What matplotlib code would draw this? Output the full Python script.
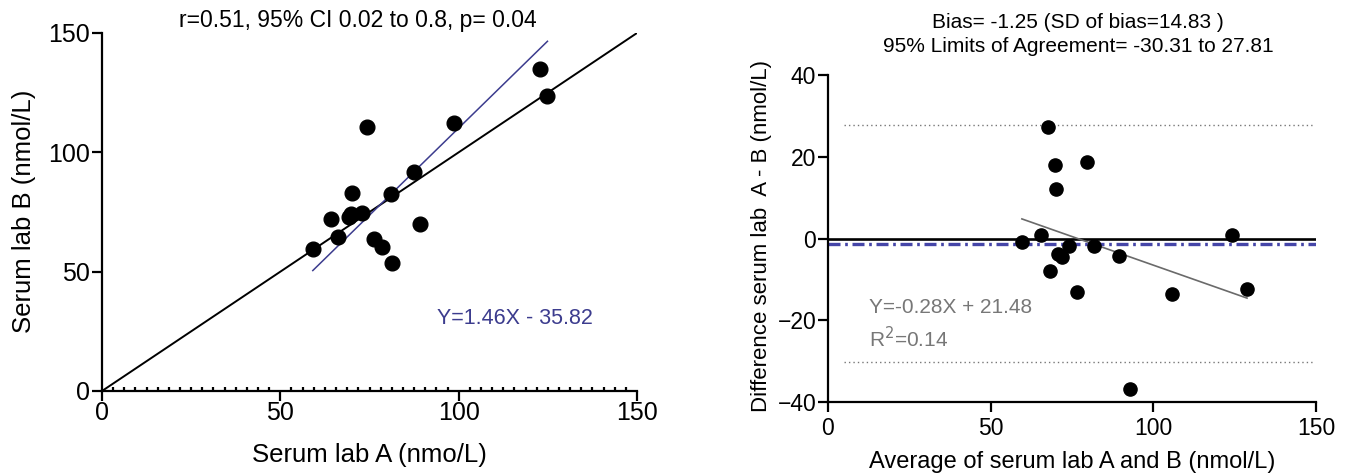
import matplotlib
matplotlib.use("Agg")
import matplotlib.pyplot as plt
from matplotlib.ticker import MultipleLocator
import numpy as np

plt.rcParams['font.family'] = ['Liberation Sans', 'DejaVu Sans']

# Left panel: serum lab A vs serum lab B
lab_a = [59.1, 64.1, 66.2, 69.2, 69.7, 70.2, 72.9, 74.2, 76.3, 78.6, 81.0, 81.4, 87.4, 89.2, 98.8, 122.7, 124.9]
lab_b = [59.3, 72.1, 64.6, 72.8, 74.3, 83.1, 74.4, 110.8, 63.7, 60.2, 82.6, 53.5, 91.7, 70.0, 112.2, 134.9, 123.4]
reg_slope, reg_int = 1.46, -35.82

# Right panel: Bland-Altman
ba_mean = [59.6, 65.6, 67.6, 68.2, 69.7, 70.1, 70.7, 72.0, 74.0, 76.6, 79.7, 81.8, 89.4, 92.7, 105.7, 124.2, 128.8]
ba_diff = [-0.9, 0.95, 27.3, -7.85, 18.1, 12.2, -3.7, -4.6, -1.9, -13.0, 18.8, -1.9, -4.2, -36.7, -13.7, 0.95, -12.4]
bias = -1.25
loa_upper, loa_lower = 27.81, -30.31
ba_slope, ba_int = -0.28, 21.48

W, H = 1349, 474
fig = plt.figure(figsize=(W / 100, H / 100), dpi=100)

BLUE = '#3c3c8e'
ax1 = fig.add_axes([102 / W, 1 - 391 / H, 535 / W, 358 / H])
ax2 = fig.add_axes([828 / W, 1 - 402 / H, 488 / W, 327 / H])

for ax in (ax1, ax2):
    for s in ('top', 'right'):
        ax.spines[s].set_visible(False)
    for s in ('left', 'bottom'):
        ax.spines[s].set_linewidth(1.6)
    ax.tick_params(axis='both', which='major', direction='out', length=7, width=1.6)

# ----- left -----
ax1.set_xlim(0, 150)
ax1.set_ylim(0, 150)
ax1.xaxis.set_major_locator(MultipleLocator(50))
ax1.yaxis.set_major_locator(MultipleLocator(50))
ax1.xaxis.set_minor_locator(MultipleLocator(50 / 16))
ax1.tick_params(axis='x', which='minor', direction='in', length=3, width=1.6)
ax1.tick_params(axis='x', which='major', labelsize=18, pad=0)
ax1.tick_params(axis='y', which='major', labelsize=18, pad=1.5)
ax1.plot([0, 150], [0, 150], color='black', lw=1.4, zorder=2)
xr = np.array([min(lab_a), max(lab_a)])
ax1.plot(xr, reg_slope * xr + reg_int, color=BLUE, lw=1.1, zorder=2)
ax1.scatter(lab_a, lab_b, s=112, color='black', zorder=3)
ax1.text(94, 30.5, 'Y=1.46X - 35.82', color=BLUE, fontsize=15.5, va='center')
ax1.set_xlabel('Serum lab A (nmo/L)', fontsize=18.5, va='center')
ax1.xaxis.set_label_coords(0.5, -64 / 358)
ax1.set_ylabel('Serum lab B (nmol/L)', fontsize=18.5, va='center')
ax1.yaxis.set_label_coords(-78 / 535, 0.503)
fig.text(358 / W, 1 - 21 / H, 'r=0.51, 95% CI 0.02 to 0.8, p= 0.04', fontsize=16.5,
         ha='center', va='center')

# ----- right -----
ax2.set_xlim(0, 150)
ax2.set_ylim(-40, 40)
ax2.xaxis.set_major_locator(MultipleLocator(50))
ax2.yaxis.set_major_locator(MultipleLocator(20))
ax2.tick_params(axis='x', which='major', labelsize=16.5, pad=4)
ax2.tick_params(axis='y', which='major', labelsize=16.5, pad=1.5)
ax2.plot([0, 150], [0, 0], color='black', lw=1.9, zorder=2)
ax2.plot([0, 150], [bias, bias], color='#4646a8', lw=2.4, zorder=2,
         linestyle=(0, (3.6, 1.4, 0.8, 1.4)))
for v in (loa_upper, loa_lower):
    ax2.plot([5, 149], [v, v], color='#777777', lw=1.0, linestyle=(0, (1, 2.2)), zorder=1)
xb = np.array([min(ba_mean), max(ba_mean)])
ax2.plot(xb, ba_slope * xb + ba_int, color='#6a6a6a', lw=1.2, zorder=2)
ax2.scatter(ba_mean, ba_diff, s=90, color='black', zorder=3)
ax2.text(12.5, -16.8, 'Y=-0.28X + 21.48', color='#777777', fontsize=15, va='center')
ax2.text(12.5, -24.4, 'R$^2$=0.14', color='#777777', fontsize=15, va='center')
ax2.set_xlabel('Average of serum lab A and B (nmol/L)', fontsize=17, va='center')
ax2.xaxis.set_label_coords(0.5, -60 / 327)
ax2.set_ylabel('Difference serum lab  A - B (nmol/L)', fontsize=16, va='center')
ax2.yaxis.set_label_coords(-66 / 488, 0.508)
fig.text(1078 / W, 1 - 22 / H, 'Bias= -1.25 (SD of bias=14.83 )', fontsize=15,
         ha='center', va='center')
fig.text(1078 / W, 1 - 47 / H, '95% Limits of Agreement= -30.31 to 27.81', fontsize=15,
         ha='center', va='center')

fig.savefig('out.png', dpi=100)
